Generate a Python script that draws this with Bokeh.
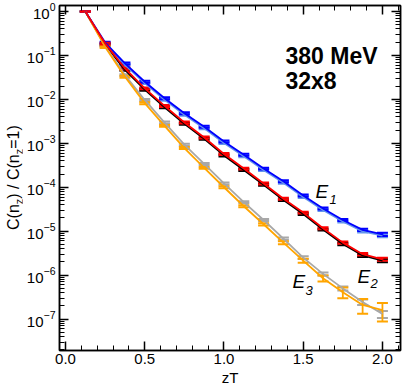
from bokeh.plotting import figure
from bokeh.layouts import row
from bokeh.models import (ColumnDataSource, Whisker, TeeHead, Label, LinearAxis, LogAxis, Div,
                          SingleIntervalTicker, FixedTicker, PrintfTickFormatter, LogTickFormatter,
                          CustomJSTickFormatter, Range1d)
from bokeh.embed import file_html
from bokeh.resources import INLINE

# ---------------- data ----------------
zT = [0.125, 0.25, 0.375, 0.5, 0.625, 0.75, 0.875, 1.0,
      1.125, 1.25, 1.375, 1.5, 1.625, 1.75, 1.875, 2.0]

E1_a = [1.0, 0.196, 0.0656, 0.0252, 0.0106, 0.00484, 0.00238, 0.0011,
        0.00055, 0.000266, 0.000137, 6.5e-5, 3.3e-5, 1.8e-5, 1.07e-5, 8.5e-6]
E1_b = [1.0, 0.185, 0.061, 0.0234, 0.0098, 0.00448, 0.0022, 0.00102,
        0.00051, 0.000247, 0.000127, 6.0e-5, 3.05e-5, 1.67e-5, 9.9e-6, 7.9e-6]
E2_a = [1.0, 0.186, 0.0505, 0.0178, 0.0071, 0.00297, 0.00136, 0.00057,
        0.000266, 0.000122, 5.5e-5, 2.65e-5, 1.17e-5, 5.5e-6, 3.0e-6, 2.3e-6]
E2_b = [1.0, 0.175, 0.047, 0.0166, 0.0066, 0.00277, 0.00127, 0.00053,
        0.000248, 0.000114, 5.1e-5, 2.47e-5, 1.09e-5, 5.1e-6, 2.8e-6, 2.15e-6]
E3_a = [1.0, 0.156, 0.0327, 0.0082, 0.0025, 0.00078, 0.000276, 1.0e-4,
        3.7e-5, 1.44e-5, 5.5e-6, 2.14e-6, 8.5e-7, 4.1e-7, 2.1e-7, 1.6e-7]
E3_b = [1.0, 0.164, 0.0356, 0.0097, 0.00297, 0.00093, 0.00034, 1.22e-4,
        4.6e-5, 1.8e-5, 6.8e-6, 2.5e-6, 1.07e-6, 5.0e-7, 2.45e-7, 1.3e-7]

# relative errors
err_E1 = [0.0, 0.05, 0.05, 0.05, 0.05, 0.05, 0.05, 0.05, 0.05, 0.05, 0.05, 0.05, 0.05, 0.05, 0.06, 0.08]
err_E2 = [0.0, 0.05, 0.05, 0.05, 0.05, 0.05, 0.05, 0.05, 0.05, 0.05, 0.05, 0.05, 0.05, 0.06, 0.07, 0.08]
err_E3a = [0.0, 0.05, 0.05, 0.05, 0.05, 0.05, 0.05, 0.05, 0.05, 0.06, 0.08, 0.10, 0.16, 0.27, 0.37, 0.45]
err_E3b = [0.0, 0.05, 0.05, 0.05, 0.05, 0.05, 0.05, 0.05, 0.05, 0.05, 0.06, 0.07, 0.08, 0.10, 0.14, 0.18]

series = [
    (E1_b, err_E1, "#6495ed"),
    (E2_b, err_E2, "#000000"),
    (E3_b, err_E3b, "#a8a8a8"),
    (E3_a, err_E3a, "#ffa500"),
    (E1_a, err_E1, "#0000ff"),
    (E2_a, err_E2, "#ff0000"),
]

FONT = "Liberation Sans"
DIV_W = 22

p = figure(width=407 - DIV_W, height=388,
           x_range=Range1d(-0.038, 2.114), y_range=Range1d(1.93e-8, 1.367),
           y_axis_type="log", output_backend="svg", toolbar_location=None,
           min_border_left=59 - DIV_W, min_border_right=7, min_border_top=5, min_border_bottom=36)
p.grid.visible = False
p.outline_line_color = "black"
p.outline_line_width = 1.5
p.background_fill_color = "white"
p.border_fill_color = "white"

for vals, errs, col in series:
    src = ColumnDataSource(dict(
        x=zT, y=vals,
        upper=[v * (1 + e) for v, e in zip(vals, errs)],
        lower=[v * (1 - e) for v, e in zip(vals, errs)],
    ))
    p.line("x", "y", source=src, line_color=col, line_width=1.8)
    w = Whisker(base="x", upper="upper", lower="lower", source=src,
                line_color=col, line_width=1.8,
                upper_head=TeeHead(size=11, line_color=col, line_width=2),
                lower_head=TeeHead(size=11, line_color=col, line_width=2))
    p.add_layout(w)

# ---------------- axes ----------------
major_y = [10.0 ** e for e in range(-7, 1)]
minor_y = [k * 10.0 ** e for e in range(-8, 1) for k in range(2, 10)]

xa = p.xaxis[0]
xa.ticker = SingleIntervalTicker(interval=0.5, num_minor_ticks=5)
xa.formatter = PrintfTickFormatter(format="%.1f")
xa.axis_label = "zT"
xa.axis_label_text_font = FONT
xa.axis_label_text_font_size = "15px"
xa.axis_label_text_font_style = "normal"
xa.axis_label_text_color = "black"
xa.axis_label_standoff = 2
ya = p.yaxis[0]
ya.ticker = FixedTicker(ticks=major_y, minor_ticks=minor_y)
ya.formatter = LogTickFormatter()

top = LinearAxis(ticker=SingleIntervalTicker(interval=0.5, num_minor_ticks=5),
                 formatter=CustomJSTickFormatter(code="return ''"))
right = LogAxis(ticker=FixedTicker(ticks=major_y, minor_ticks=minor_y),
                formatter=CustomJSTickFormatter(code="return ''"))
p.add_layout(top, "above")
p.add_layout(right, "right")

for ax in [xa, ya, top, right]:
    ax.axis_line_color = "black"
    ax.axis_line_width = 1.5
    ax.major_tick_line_color = "black"
    ax.minor_tick_line_color = "black"
    ax.major_tick_line_width = 1.5
    ax.minor_tick_line_width = 1
    ax.major_tick_in = 9
    ax.major_tick_out = 0
    ax.minor_tick_in = 5
    ax.minor_tick_out = 0
    ax.major_label_text_font = FONT
    ax.major_label_text_font_size = "15px"
    ax.major_label_text_color = "black"
for ax in [top, right]:
    ax.major_label_standoff = 0
xa.major_label_standoff = 3
ya.major_label_standoff = 4

# ---------------- in-plot texts (screen units relative to frame) ----------------
def lab(text, x, y, size, style="normal"):
    p.add_layout(Label(x=x, y=y, x_units="screen", y_units="screen", text=text,
                       text_font=FONT, text_font_size=size, text_font_style=style,
                       text_align="left", text_baseline="alphabetic", text_color="black"))

lab("380 MeV", 226, 295, "23px", style="bold")
lab("32x8", 226, 270, "23px", style="bold")

lab("E", 256, 159, "19px", style="italic")
lab("1", 270, 151, "13px", style="italic")
lab("E", 298, 74, "19px", style="italic")
lab("2", 311, 67, "13px", style="italic")
lab("E", 233, 69, "19px", style="italic")
lab("3", 246, 60, "13px", style="italic")

# ---------------- rotated y-axis title ----------------
ylabel_html = (
    '<div style="width:max-content;white-space:nowrap;'
    'transform:translate(5px,230px) rotate(-90deg);transform-origin:0 0;'
    "font-family:'Liberation Sans';font-size:16px;line-height:18px;color:black;\">"
    'C(n<sub style="font-size:11px;">z</sub>) / C(n<sub style="font-size:11px;">z</sub>=1)'
    '</div>'
)
ydiv = Div(text=ylabel_html, width=DIV_W, height=388, margin=0)

layout = row(ydiv, p, spacing=0)
open("out.html", "w").write(file_html(layout, INLINE))
